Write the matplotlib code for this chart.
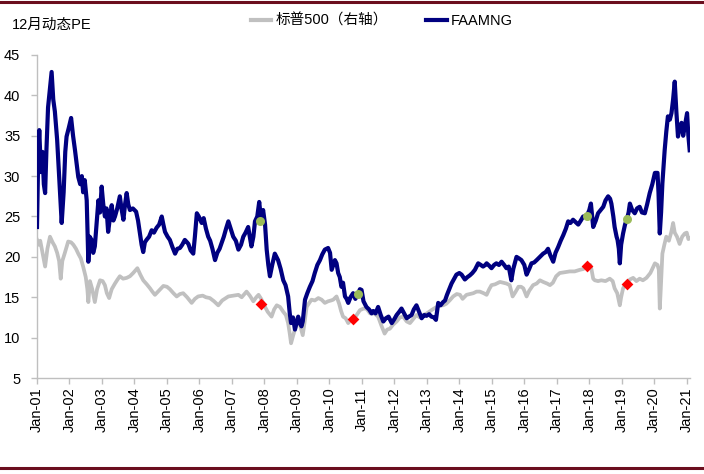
import matplotlib
matplotlib.use("Agg")
import matplotlib.pyplot as plt
from matplotlib.lines import Line2D
from matplotlib.font_manager import FontProperties

# ---------------- data ----------------
faamng_t = [2001.00, 2001.04, 2001.07, 2001.12, 2001.17, 2001.21, 2001.25, 2001.29, 2001.34, 2001.39,
            2001.45, 2001.50, 2001.55, 2001.62, 2001.68, 2001.76, 2001.82, 2001.87, 2001.91, 2001.98,
            2002.05, 2002.11, 2002.17, 2002.22, 2002.27, 2002.33, 2002.38, 2002.42, 2002.47, 2002.53,
            2002.58, 2002.62, 2002.68, 2002.73, 2002.78, 2002.84, 2002.89, 2002.94, 2002.99, 2003.04,
            2003.09, 2003.14, 2003.19, 2003.25, 2003.30, 2003.35, 2003.40, 2003.47, 2003.55, 2003.60,
            2003.66, 2003.71, 2003.76, 2003.81, 2003.86, 2003.95, 2004.05, 2004.11, 2004.17, 2004.22,
            2004.27, 2004.32, 2004.37, 2004.45, 2004.53, 2004.60, 2004.68, 2004.76, 2004.84, 2004.89,
            2004.94, 2005.02, 2005.09, 2005.17, 2005.25, 2005.32, 2005.40, 2005.47, 2005.55, 2005.62,
            2005.66, 2005.73, 2005.81, 2005.86, 2005.92, 2005.98, 2006.07, 2006.13, 2006.20, 2006.27,
            2006.33, 2006.40, 2006.48, 2006.55, 2006.62, 2006.68, 2006.75, 2006.82, 2006.89, 2006.96,
            2007.04, 2007.12, 2007.20, 2007.28, 2007.35, 2007.42, 2007.50, 2007.55, 2007.60, 2007.66,
            2007.71, 2007.78, 2007.84, 2007.90, 2007.96, 2008.02, 2008.07, 2008.12, 2008.17, 2008.24,
            2008.32, 2008.37, 2008.42, 2008.50, 2008.58, 2008.65, 2008.73, 2008.78, 2008.82, 2008.88,
            2008.94, 2009.00, 2009.04, 2009.09, 2009.14, 2009.18, 2009.25, 2009.32, 2009.40, 2009.48,
            2009.55, 2009.63, 2009.71, 2009.78, 2009.86, 2009.96, 2010.02, 2010.07, 2010.12, 2010.17,
            2010.22, 2010.27, 2010.32, 2010.37, 2010.42, 2010.48, 2010.53, 2010.58, 2010.65, 2010.73,
            2010.80, 2010.88, 2010.94, 2010.99, 2011.05, 2011.14, 2011.22, 2011.30, 2011.35, 2011.42,
            2011.50, 2011.58, 2011.66, 2011.74, 2011.82, 2011.92, 2012.00, 2012.07, 2012.15, 2012.22,
            2012.30, 2012.38, 2012.45, 2012.53, 2012.60, 2012.68, 2012.76, 2012.84, 2012.92, 2012.99,
            2013.07, 2013.14, 2013.22, 2013.28, 2013.35, 2013.42, 2013.50, 2013.56, 2013.62, 2013.69,
            2013.76, 2013.84, 2013.91, 2014.00, 2014.07, 2014.12, 2014.17, 2014.25, 2014.32, 2014.40,
            2014.48, 2014.58, 2014.66, 2014.73, 2014.80, 2014.84, 2014.92, 2014.99, 2015.07, 2015.14,
            2015.22, 2015.30, 2015.38, 2015.45, 2015.52, 2015.60, 2015.66, 2015.76, 2015.84, 2015.91,
            2016.00, 2016.07, 2016.15, 2016.22, 2016.30, 2016.38, 2016.48, 2016.58, 2016.66, 2016.73,
            2016.80, 2016.89, 2016.96, 2017.04, 2017.12, 2017.20, 2017.28, 2017.35, 2017.42, 2017.50,
            2017.58, 2017.66, 2017.74, 2017.81, 2017.88, 2017.93, 2018.00, 2018.05, 2018.09, 2018.12,
            2018.20, 2018.27, 2018.35, 2018.43, 2018.50, 2018.58, 2018.64, 2018.68, 2018.74, 2018.78,
            2018.84, 2018.87, 2018.91, 2018.94, 2018.98, 2019.04, 2019.10, 2019.16, 2019.21, 2019.25,
            2019.32, 2019.40, 2019.47, 2019.55, 2019.62, 2019.71, 2019.78, 2019.86, 2019.94, 2020.02,
            2020.10, 2020.13, 2020.17, 2020.21, 2020.25, 2020.32, 2020.37, 2020.42, 2020.48, 2020.53,
            2020.58, 2020.63, 2020.68, 2020.73, 2020.78, 2020.84, 2020.89, 2020.94, 2021.01, 2021.05,
            2021.09]
faamng_pe = [23.7, 33.0, 35.7, 30.5, 33.0, 29.0, 27.9, 33.2, 38.5, 40.5,
             42.9, 39.5, 38.0, 34.5, 30.0, 24.2, 28.0, 33.0, 34.9, 36.0,
             37.2, 35.0, 33.2, 31.5, 29.9, 29.0, 30.0, 28.0, 29.5, 27.0,
             19.4, 22.5, 22.1, 20.5, 21.3, 24.5, 27.0, 25.5, 28.7, 26.5,
             25.0, 26.0, 23.1, 25.0, 26.4, 24.5, 25.0, 26.0, 27.5, 26.0,
             24.6, 26.5, 27.9, 26.5, 25.8, 26.0, 25.6, 24.5, 22.9, 21.5,
             20.6, 21.8, 22.1, 22.5, 23.3, 23.0, 23.6, 24.0, 25.0, 24.0,
             23.1, 22.5, 22.1, 21.2, 20.4, 21.0, 21.1, 21.5, 22.1, 21.8,
             21.6, 20.8, 20.4, 22.5, 25.4, 25.0, 24.2, 24.8, 23.5, 22.5,
             22.0, 21.0, 19.6, 20.5, 21.0, 21.7, 22.5, 23.5, 24.4, 23.5,
             22.5, 22.0, 20.9, 21.5, 22.5, 23.0, 23.7, 22.5, 21.3, 22.5,
             24.4, 25.0, 26.8, 24.5, 25.8, 24.0, 20.9, 19.0, 17.6, 19.0,
             20.4, 20.0, 19.6, 18.5, 17.1, 16.5, 15.1, 13.0, 11.8, 12.5,
             11.0, 12.0, 12.6, 11.8, 11.4, 12.0, 14.7, 15.5, 16.3, 17.0,
             18.0, 19.0, 19.6, 20.3, 20.9, 21.1, 20.5, 18.4, 19.0, 19.6,
             19.2, 18.0, 17.5, 16.3, 16.8, 15.1, 14.8, 14.3, 15.0, 15.5,
             14.8, 15.4, 16.0, 15.9, 14.5, 13.8, 13.5, 13.0, 13.3, 13.0,
             13.8, 12.8, 12.0, 12.4, 12.6, 11.8, 12.3, 12.8, 13.2, 13.6,
             13.0, 12.4, 12.6, 12.8, 13.5, 14.0, 13.2, 12.4, 12.8, 12.7,
             12.9, 12.6, 12.5, 12.2, 14.3, 14.0, 14.4, 14.6, 15.3, 16.0,
             16.7, 17.3, 17.8, 18.0, 17.8, 17.5, 17.2, 17.5, 17.7, 18.0,
             18.4, 19.2, 19.0, 18.8, 19.0, 19.2, 18.9, 18.6, 19.0, 19.2,
             19.0, 19.4, 19.0, 18.6, 18.8, 17.1, 18.5, 20.0, 19.8, 19.6,
             19.0, 17.8, 18.5, 19.2, 19.3, 19.6, 20.0, 20.4, 20.6, 21.0,
             20.2, 19.4, 20.5, 21.2, 22.0, 22.7, 23.5, 24.4, 24.2, 24.6,
             24.3, 24.0, 24.5, 25.0, 25.0, 25.1, 25.8, 26.6, 25.0, 23.7,
             24.5, 25.4, 25.8, 26.2, 27.0, 27.5, 27.2, 26.6, 25.0, 23.7,
             22.5, 22.1, 21.0, 19.2, 21.5, 22.9, 24.0, 24.7, 25.5, 26.6,
             25.8, 25.4, 26.0, 26.2, 25.5, 25.4, 26.5, 27.9, 29.0, 30.4,
             30.4, 28.0, 22.9, 25.5, 29.1, 33.2, 35.5, 37.4, 37.0, 37.8,
             39.5, 41.7, 38.0, 34.9, 36.0, 36.6, 35.0, 36.2, 37.8, 35.0,
             33.2]

sp500_t = [2001.00, 2001.05, 2001.10, 2001.17, 2001.25, 2001.32, 2001.40, 2001.48, 2001.55, 2001.62,
           2001.68, 2001.73, 2001.78, 2001.85, 2001.96, 2002.05, 2002.12, 2002.20, 2002.27, 2002.35,
           2002.42, 2002.50, 2002.55, 2002.58, 2002.63, 2002.70, 2002.78, 2002.85, 2002.94, 2003.02,
           2003.09, 2003.15, 2003.22, 2003.30, 2003.40, 2003.48, 2003.55, 2003.65, 2003.76, 2003.86,
           2003.96, 2004.09, 2004.18, 2004.27, 2004.38, 2004.48, 2004.55, 2004.63, 2004.75, 2004.89,
           2005.00, 2005.09, 2005.20, 2005.30, 2005.40, 2005.50, 2005.62, 2005.76, 2005.86, 2005.96,
           2006.10, 2006.20, 2006.32, 2006.45, 2006.58, 2006.70, 2006.89, 2007.05, 2007.20, 2007.30,
           2007.45, 2007.55, 2007.66, 2007.75, 2007.82, 2007.90, 2008.02, 2008.10, 2008.22, 2008.30,
           2008.38, 2008.48, 2008.58, 2008.66, 2008.73, 2008.78, 2008.82, 2008.88, 2008.94, 2009.04,
           2009.10, 2009.18, 2009.24, 2009.30, 2009.38, 2009.45, 2009.55, 2009.66, 2009.76, 2009.86,
           2009.96, 2010.05, 2010.12, 2010.22, 2010.30, 2010.36, 2010.42, 2010.50, 2010.58, 2010.66,
           2010.73, 2010.84, 2010.94, 2011.05, 2011.14, 2011.25, 2011.38, 2011.50, 2011.60, 2011.70,
           2011.78, 2011.86, 2011.96, 2012.07, 2012.17, 2012.27, 2012.38, 2012.48, 2012.58, 2012.68,
           2012.78, 2012.88, 2013.00, 2013.14, 2013.26, 2013.40, 2013.50, 2013.60, 2013.70, 2013.81,
           2013.92, 2014.02, 2014.10, 2014.22, 2014.33, 2014.43, 2014.53, 2014.63, 2014.75, 2014.84,
           2014.92, 2014.99, 2015.10, 2015.25, 2015.35, 2015.45, 2015.55, 2015.64, 2015.72, 2015.82,
           2015.90, 2015.97, 2016.07, 2016.15, 2016.27, 2016.38, 2016.48, 2016.58, 2016.70, 2016.79,
           2016.88, 2016.98, 2017.09, 2017.25, 2017.40, 2017.55, 2017.71, 2017.82, 2017.93, 2018.03,
           2018.07, 2018.12, 2018.17, 2018.27, 2018.37, 2018.50, 2018.63, 2018.72, 2018.78, 2018.86,
           2018.94, 2018.98, 2019.04, 2019.10, 2019.17, 2019.25, 2019.35, 2019.45, 2019.55, 2019.65,
           2019.76, 2019.88, 2020.02, 2020.10, 2020.14, 2020.17, 2020.20, 2020.25, 2020.31, 2020.37,
           2020.45, 2020.52, 2020.58, 2020.63, 2020.70, 2020.78, 2020.86, 2020.94, 2021.00, 2021.05,
           2021.09]
sp500_pe = [22.1, 21.5, 22.0, 20.5, 18.8, 21.0, 22.5, 21.8, 21.3, 20.5,
            19.5, 17.3, 19.5, 20.4, 21.9, 21.8, 21.5, 21.0, 20.4, 19.8,
            18.8, 17.5, 16.0, 14.4, 17.0, 16.0, 14.4, 16.0, 17.1, 17.0,
            16.5, 15.5, 14.9, 16.0, 16.7, 17.2, 17.6, 17.3, 17.4, 17.6,
            18.0, 18.6, 17.8, 17.1, 16.6, 16.1, 15.7, 15.3, 15.8, 16.4,
            16.3, 16.0, 15.5, 15.1, 15.4, 15.5, 15.0, 14.3, 14.8, 15.1,
            15.2, 15.0, 14.9, 14.5, 14.0, 14.6, 15.1, 15.2, 15.3, 15.0,
            15.7, 15.2, 14.5, 15.0, 15.3, 14.8, 13.8, 13.2, 12.6, 13.5,
            14.0, 13.8, 13.2, 12.8, 11.8, 10.5, 9.3, 10.2, 11.0, 12.2,
            11.5, 10.3, 12.0, 13.8, 14.3, 14.7, 14.6, 14.9, 14.7, 14.3,
            14.5, 14.6, 14.7, 15.1, 14.2, 13.3, 12.6, 12.4, 11.8, 12.2,
            12.3, 12.8, 13.4, 13.6, 13.6, 13.0, 13.0, 12.6, 11.5, 10.5,
            11.0, 11.1, 11.6, 12.0, 12.5, 12.6, 12.0, 11.8, 12.3, 12.8,
            12.5, 12.8, 13.0, 13.4, 13.7, 14.0, 14.0, 14.2, 14.6, 15.1,
            15.4, 15.3, 14.8, 15.3, 15.4, 15.5, 15.7, 15.7, 15.5, 15.3,
            16.0, 16.5, 16.6, 16.9, 16.8, 16.7, 16.5, 15.1, 15.6, 16.3,
            16.3, 16.1, 15.1, 15.8, 16.5, 16.7, 17.1, 16.9, 16.7, 16.5,
            16.8, 17.6, 18.0, 18.1, 18.2, 18.2, 18.4, 18.5, 18.9, 19.0,
            18.4, 17.3, 17.1, 17.0, 17.1, 17.0, 17.3, 17.0, 16.1, 15.5,
            14.0, 15.0, 16.1, 16.5, 16.7, 17.2, 17.4, 17.0, 17.3, 17.1,
            17.4, 18.0, 19.2, 19.0, 18.4, 13.6, 16.0, 20.4, 21.5, 22.5,
            22.0, 23.0, 24.2, 23.0, 22.5, 21.6, 22.5, 22.9, 23.0, 22.2,
            22.3]

green_t = [2007.86, 2010.88, 2017.93, 2019.16]
green_pe = [24.4, 15.4, 25.1, 24.7]
red_t = [2007.89, 2010.73, 2017.93, 2019.17]
red_pe = [14.2, 12.3, 18.9, 16.7]

years = list(range(2001, 2022))
tick_labels = ["Jan-%02d" % (y % 100) for y in years]
y_ticks = [5, 10, 15, 20, 25, 30, 35, 40, 45]

title_text = "12月动态PE"
legend_sp = "标普500（右轴）"
legend_fa = "FAAMNG"

# ---------------- figure ----------------
FAM = ["Liberation Sans", "Noto Sans CJK SC", "DejaVu Sans"]
plt.rcParams["font.family"] = FAM

W, H = 704, 474
fig = plt.figure(figsize=(W / 100, H / 100), dpi=100)
left, right, top, bottom = 37, 690, 55, 378
ax = fig.add_axes([left / W, 1 - bottom / H, (right - left) / W, (bottom - top) / H])

ax.plot(sp500_t, sp500_pe, color="#C0C0C0", lw=2.7, solid_joinstyle="round", zorder=2)
ax.plot(faamng_t, faamng_pe, color="#000080", lw=3.0, solid_joinstyle="round", zorder=3)
ax.scatter(green_t, green_pe, s=42, color="#9BBB59", zorder=5, linewidths=0)
ax.scatter(red_t, red_pe, s=36, marker="D", color="#FF0000", zorder=5, linewidths=0)

ax.set_xlim(2001.0, 2021.1)
ax.set_ylim(5, 45)
ax.set_xticks(years)
ax.set_xticklabels(tick_labels, rotation=90, fontsize=10.5)
ax.set_yticks(y_ticks)
ax.set_yticklabels([str(v) for v in y_ticks], fontsize=10.5)

for s in ["top", "right"]:
    ax.spines[s].set_visible(False)
for s in ["left", "bottom"]:
    ax.spines[s].set_color("#BFBFBF")
    ax.spines[s].set_linewidth(1.0)
ax.tick_params(axis="both", direction="out", length=4, width=1, color="#BFBFBF",
               labelcolor="black")
ax.tick_params(axis="y", pad=8)
ax.tick_params(axis="x", pad=3)

fig.text(12 / W, 1 - 25 / H, title_text, fontsize=10.5, va="center", ha="left")

handles = [Line2D([0], [0], color="#C0C0C0", lw=3),
           Line2D([0], [0], color="#000080", lw=3)]
fig.legend(handles, [legend_sp, legend_fa], loc="center", bbox_to_anchor=(382 / W, 1 - 21 / H),
           ncol=2, frameon=False, handlelength=1.4, handletextpad=0.3, columnspacing=2.6,
           prop=FontProperties(family=FAM, size=10.5))

# dark red frame lines at top and bottom of the figure
fig.add_artist(Line2D([0, 1], [1 - 2 / H, 1 - 2 / H], transform=fig.transFigure,
                      color="#6B0E1E", lw=2.2))
fig.add_artist(Line2D([0, 1], [1 - 468 / H, 1 - 468 / H], transform=fig.transFigure,
                      color="#6B0E1E", lw=2.2))

fig.savefig("out.png", dpi=100)
